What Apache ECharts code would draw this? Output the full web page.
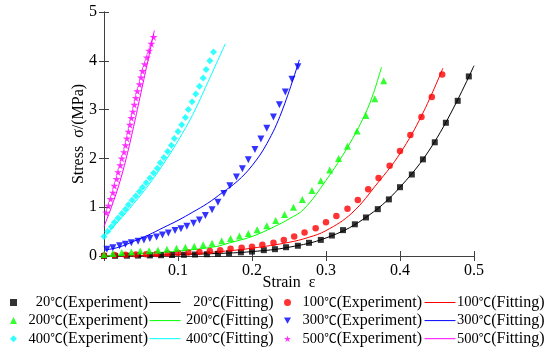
<!DOCTYPE html>
<html><head><meta charset="utf-8">
<script src="https://cdn.jsdelivr.net/npm/echarts@6/dist/echarts.min.js"></script>
<style>html,body{margin:0;padding:0;background:#fff}#c{width:550px;height:358px}</style>
</head><body><div id="c"></div>
<script>
// ---- data ----
const temps = ['20℃','100℃','200℃','300℃','400℃','500℃'];
const colors = ['#000000','#ff0000','#00ff00','#0000ff','#00ffff','#ff00ff'];
const exp20 = [[0,0],[0.015,0.003],[0.031,0.006],[0.046,0.009],[0.062,0.012],[0.077,0.016],[0.092,0.02],[0.108,0.025],[0.123,0.03],[0.139,0.036],[0.154,0.045],[0.169,0.055],[0.185,0.075],[0.200,0.09],[0.216,0.12],[0.231,0.14],[0.246,0.18],[0.262,0.21],[0.277,0.27],[0.293,0.33],[0.308,0.42],[0.323,0.53],[0.339,0.65],[0.354,0.79],[0.370,0.96],[0.385,1.16],[0.400,1.41],[0.416,1.67],[0.431,1.98],[0.447,2.33],[0.462,2.73],[0.478,3.18],[0.493,3.68]];
const exp100 = [[0,0.01],[0.014,0.02],[0.029,0.025],[0.043,0.03],[0.057,0.035],[0.071,0.04],[0.086,0.05],[0.100,0.06],[0.114,0.07],[0.129,0.08],[0.143,0.1],[0.157,0.12],[0.171,0.15],[0.186,0.17],[0.200,0.19],[0.214,0.23],[0.229,0.27],[0.243,0.33],[0.257,0.40],[0.271,0.48],[0.286,0.57],[0.300,0.69],[0.314,0.82],[0.329,0.97],[0.343,1.15],[0.357,1.37],[0.371,1.60],[0.386,1.85],[0.400,2.15],[0.414,2.48],[0.429,2.85],[0.443,3.26],[0.457,3.72]];
const exp200 = [[0,0.03],[0.012,0.05],[0.024,0.07],[0.037,0.08],[0.049,0.1],[0.061,0.11],[0.073,0.12],[0.085,0.14],[0.098,0.16],[0.110,0.18],[0.122,0.2],[0.134,0.23],[0.146,0.26],[0.159,0.31],[0.171,0.36],[0.183,0.41],[0.195,0.46],[0.207,0.54],[0.220,0.62],[0.232,0.73],[0.244,0.85],[0.256,1.00],[0.268,1.16],[0.281,1.34],[0.293,1.54],[0.305,1.76],[0.317,2.00],[0.329,2.25],[0.342,2.56],[0.354,2.88],[0.366,3.22],[0.378,3.59]];
const exp300 = [[0.004,0.14],[0.012,0.17],[0.021,0.21],[0.029,0.24],[0.037,0.27],[0.046,0.30],[0.054,0.33],[0.062,0.36],[0.071,0.39],[0.079,0.43],[0.087,0.47],[0.096,0.52],[0.104,0.56],[0.112,0.61],[0.121,0.67],[0.129,0.74],[0.137,0.83],[0.146,0.95],[0.154,1.10],[0.162,1.28],[0.170,1.44],[0.179,1.62],[0.187,1.79],[0.195,1.97],[0.204,2.18],[0.212,2.40],[0.220,2.62],[0.229,2.85],[0.237,3.10],[0.245,3.36],[0.254,3.62],[0.262,3.88]];
const exp400 = [[0,0.40],[0.005,0.50],[0.010,0.60],[0.014,0.69],[0.019,0.78],[0.024,0.87],[0.029,0.96],[0.033,1.05],[0.038,1.14],[0.043,1.23],[0.048,1.32],[0.052,1.41],[0.057,1.50],[0.062,1.60],[0.067,1.70],[0.072,1.80],[0.076,1.91],[0.081,2.02],[0.086,2.14],[0.091,2.27],[0.095,2.41],[0.100,2.55],[0.105,2.69],[0.110,2.84],[0.114,3.00],[0.119,3.16],[0.124,3.32],[0.129,3.48],[0.134,3.65],[0.138,3.82],[0.143,4.00],[0.148,4.18]];
const exp500 = [[0.003,0.89],[0.006,1.03],[0.009,1.17],[0.012,1.30],[0.014,1.44],[0.017,1.58],[0.019,1.72],[0.022,1.86],[0.024,2.00],[0.027,2.13],[0.029,2.27],[0.031,2.41],[0.033,2.55],[0.035,2.69],[0.037,2.83],[0.039,2.96],[0.041,3.10],[0.043,3.24],[0.045,3.38],[0.048,3.52],[0.050,3.66],[0.052,3.79],[0.055,3.93],[0.058,4.07],[0.061,4.21],[0.064,4.35],[0.067,4.49]];
const fit20 = [[0,0],[0.05,0.01],[0.1,0.03],[0.15,0.05],[0.2,0.09],[0.25,0.18],[0.3,0.37],[0.35,0.75],[0.4,1.41],[0.45,2.42],[0.5,3.9]];
const fit100 = [[0,0],[0.05,0.01],[0.1,0.03],[0.164,0.1],[0.2,0.16],[0.25,0.28],[0.276,0.38],[0.3,0.52],[0.335,0.88],[0.37,1.5],[0.4,2.1],[0.43,2.9],[0.458,3.85]];
const fit200 = [[0,0],[0.05,0.05],[0.1,0.1],[0.15,0.19],[0.17,0.27],[0.2,0.4],[0.23,0.6],[0.25,0.76],[0.27,0.96],[0.3,1.55],[0.33,2.25],[0.352,2.88],[0.364,3.33],[0.375,3.87]];
const fit300 = [[0,0.12],[0.02,0.18],[0.04,0.3],[0.06,0.43],[0.08,0.58],[0.1,0.73],[0.12,0.9],[0.14,1.08],[0.16,1.3],[0.18,1.53],[0.2,1.85],[0.22,2.3],[0.24,2.95],[0.264,4.02]];
const fit400 = [[0,0.4],[0.02,0.72],[0.04,1.07],[0.06,1.45],[0.08,1.88],[0.1,2.36],[0.12,2.9],[0.14,3.55],[0.164,4.35]];
const fit500 = [[0,0.6],[0.005,0.8],[0.01,1.0],[0.02,1.45],[0.03,2.0],[0.04,2.65],[0.05,3.35],[0.06,4.05],[0.068,4.62]];
const xTicks = [0, 0.1, 0.2, 0.3, 0.4, 0.5];
const yTicks = [0, 1, 2, 3, 4, 5];

// ---- chart ----
const FONT = '"Liberation Serif","Times New Roman",serif';
const CJK = '"Noto Sans CJK SC",sans-serif';
const STAR = 'path://M50,0 L61,35 L98,35 L68,57 L79,91 L50,70 L21,91 L32,57 L2,35 L39,35 Z';
const DOWN = 'path://M0,0 L10,0 L5,9 Z';
const expSets = [exp20, exp100, exp200, exp300, exp400, exp500];
const fitSets = [fit20, fit100, fit200, fit300, fit400, fit500];
const symbols = ['rect','circle','triangle','triangle','diamond',STAR];
const legendIcons = ['rect','circle','triangle',DOWN,'diamond',STAR];
const rot = [0,0,0,180,0,0];
const sizes = [6,6.5,7,7,7,8];
const series = [];
temps.forEach((t,i)=>{
  series.push({name: t+'(Experiment)', type:'scatter', data: expSets[i], symbol: symbols[i], symbolRotate: rot[i], symbolSize: sizes[i], itemStyle:{color: colors[i]}, z: 3});
  series.push({name: t+'(Fitting)', type:'line', data: fitSets[i], symbol:'none', smooth: 0.4, lineStyle:{color: colors[i], width:1}, itemStyle:{color: colors[i]}, z: 2});
});
const axisLine = {show:true, lineStyle:{color:'#404040', width:1}};
const tick = {show:true, inside:true, length:5, lineStyle:{color:'#404040'}};
const LH = 15;
const rich = {
  n:{fontFamily: FONT, fontSize:14.5, align:'right', color:'#000', lineHeight:LH},
  c:{fontFamily: CJK, fontSize:12.5, align:'right', color:'#000', lineHeight:LH},
  t:{fontFamily: FONT, fontSize:16, align:'right', color:'#000', lineHeight:LH}
};
function fmt(name){
  const k = name.indexOf('℃');
  return '{n|' + name.slice(0,k) + '}{c|℃}{t|' + name.slice(k+1) + '}';
}
const LTOP = 294.5, GAP = 2.1;
function expLegend(idx, left){
  return {data: idx.map(i => ({name: temps[i]+'(Experiment)', icon: legendIcons[i], itemStyle:{color: colors[i]}})),
    orient:'vertical', left: left, top: LTOP, padding: 0, itemWidth: 7, itemHeight: 7, itemGap: GAP, selectedMode:false,
    formatter: fmt,
    textStyle:{color:'#000', fontFamily: FONT, fontSize: 16, width: 126, rich: rich}};
}
function fitLegend(idx, left, w){
  return {data: idx.map(i => ({name: temps[i]+'(Fitting)', itemStyle:{opacity:0}, lineStyle:{color: colors[i], width:1}})),
    orient:'vertical', left: left, top: LTOP, padding: 0, itemWidth: 31, itemHeight: 7, itemGap: GAP, selectedMode:false,
    formatter: fmt,
    textStyle:{color:'#000', fontFamily: FONT, fontSize: 16, width: w, rich: rich}};
}
const option = {
  animation:false,
  backgroundColor:'#fff',
  grid:{left:104, right:76, top:12, bottom:102},
  xAxis:[{type:'value', min:xTicks[0], max:xTicks[xTicks.length-1], interval:0.1, position:'bottom',
    name:'Strain  ε', nameLocation:'middle', nameGap:19, nameMoveOverlap:false, nameTextStyle:{fontFamily:FONT, fontSize:16, color:'#000'},
    axisLine: axisLine, axisTick: tick, splitLine:{show:false},
    axisLabel:{fontFamily:FONT, fontSize:16, color:'#000', margin:7, formatter: v => v===0 ? '' : String(+v.toFixed(1))}},
    {type:'value', min:xTicks[0], max:xTicks[xTicks.length-1], interval:0.1, position:'top', axisLine: axisLine, axisTick: tick, axisLabel:{show:false}, splitLine:{show:false}}],
  yAxis:[{type:'value', min:yTicks[0], max:yTicks[yTicks.length-1], interval:1, position:'left',
    name:'Stress  σ/(MPa)', nameLocation:'middle', nameGap:17, nameMoveOverlap:false, nameTextStyle:{fontFamily:FONT, fontSize:16, color:'#000'},
    axisLine: axisLine, axisTick: tick, splitLine:{show:false},
    axisLabel:{fontFamily:FONT, fontSize:16, color:'#000', margin:7}},
    {type:'value', min:yTicks[0], max:yTicks[yTicks.length-1], interval:1, position:'right', axisLine: axisLine, axisTick: tick, axisLabel:{show:false}, splitLine:{show:false}}],
  legend:[
    expLegend([0,2,4], 10),
    fitLegend([0,2,4], 149, 88),
    expLegend([1,3,5], 284),
    fitLegend([1,3,5], 424, 84)
  ],
  series: series
};
const chart = echarts.init(document.getElementById('c'), null, {renderer:'canvas'});
chart.setOption(option);
</script></body></html>
